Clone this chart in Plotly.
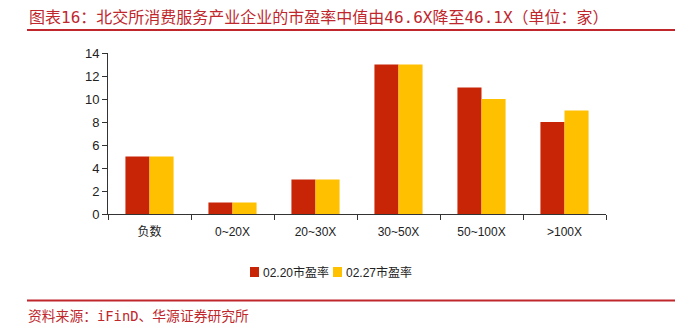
import plotly.graph_objects as go

categories = ["负数", "0~20X", "20~30X", "30~50X", "50~100X", ">100X"]
pe_0220 = [5, 1, 3, 13, 11, 8]
pe_0227 = [5, 1, 3, 13, 10, 9]
series_names = ["02.20市盈率", "02.27市盈率"]
y_ticks = [0, 2, 4, 6, 8, 10, 12, 14]

title_text = "图表16：北交所消费服务产业企业的市盈率中值由46.6X降至46.1X（单位：家）"
source_text = "资料来源：iFinD、华源证券研究所"

RED = "#C82506"
YELLOW = "#FFC000"
BRAND = "#C0272D"
AXIS_FONT = "Liberation Sans, Arial, Noto Sans CJK SC"
NOTE_FONT = "DejaVu Sans Mono, Noto Sans CJK SC"

W, H = 675, 334
left, right, top, bottom = 108, 69, 53, 120
pw, ph = W - left - right, H - top - bottom


def px_x(x):
    """Pixel column -> paper x."""
    return (x - left) / pw


def px_y(y):
    """Pixel row (from top) -> paper y."""
    return (H - bottom - y) / ph


fig = go.Figure()
fig.add_trace(go.Bar(x=categories, y=pe_0220, name=series_names[0],
                     marker=dict(color=RED, line=dict(width=0))))
fig.add_trace(go.Bar(x=categories, y=pe_0227, name=series_names[1],
                     marker=dict(color=YELLOW, line=dict(width=0))))

fig.update_layout(
    width=W, height=H,
    margin=dict(l=left, r=right, t=top, b=bottom),
    paper_bgcolor="white", plot_bgcolor="white",
    barmode="group", bargap=0.42, bargroupgap=0,
    font=dict(family=AXIS_FONT, size=12, color="#222"),
    showlegend=False,
    xaxis=dict(type="category", showline=True, linecolor="#333", linewidth=1,
               ticks="outside", ticklen=5, tickcolor="#333",
               tickson="boundaries", showgrid=False, ticklabelstandoff=7,
               tickfont=dict(size=12, color="#222")),
    yaxis=dict(range=[0, 14], tickvals=y_ticks, showline=True, linecolor="#333",
               linewidth=1, ticks="outside", ticklen=5, tickcolor="#333",
               showgrid=False, zeroline=False,
               tickfont=dict(size=13, color="#222")),
)

# legend drawn as swatches + labels below the axis
legend_items = [(250, RED, series_names[0]), (333, YELLOW, series_names[1])]
for x0, color, label in legend_items:
    fig.add_shape(type="rect", xref="paper", yref="paper",
                  x0=px_x(x0), x1=px_x(x0 + 9), y0=px_y(277), y1=px_y(267),
                  fillcolor=color, line=dict(width=0))
    fig.add_annotation(text=label, xref="paper", yref="paper",
                       x=px_x(x0 + 11), y=px_y(272), xanchor="left", yanchor="middle",
                       showarrow=False, font=dict(family=AXIS_FONT, size=12, color="#222"))

# header title and rule
fig.add_annotation(text=title_text, xref="paper", yref="paper",
                   x=px_x(27), y=px_y(18), xanchor="left", yanchor="middle",
                   showarrow=False, font=dict(family=NOTE_FONT, size=16, color=BRAND))
fig.add_shape(type="line", xref="paper", yref="paper",
              x0=px_x(27), x1=px_x(W), y0=px_y(30), y1=px_y(30),
              line=dict(color=BRAND, width=2))

# footer rule and source note
fig.add_shape(type="line", xref="paper", yref="paper",
              x0=px_x(27), x1=px_x(W), y0=px_y(300.5), y1=px_y(300.5),
              line=dict(color=BRAND, width=2))
fig.add_annotation(text=source_text, xref="paper", yref="paper",
                   x=px_x(26), y=px_y(316), xanchor="left", yanchor="middle",
                   showarrow=False, font=dict(family=NOTE_FONT, size=13.8, color=BRAND))

fig.write_html("out.html")
